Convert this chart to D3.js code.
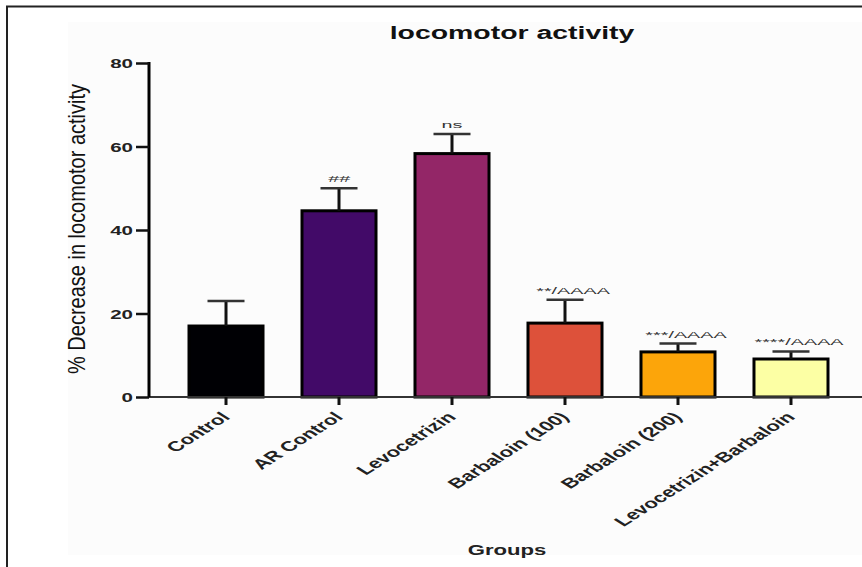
<!DOCTYPE html>
<html>
<head>
<meta charset="utf-8">
<script src="https://cdn.jsdelivr.net/npm/d3@7"></script>
<style>
  html, body { margin: 0; padding: 0; background: #fff; }
  svg { display: block; }
  text { font-family: "Liberation Sans", Arial, sans-serif; }
</style>
</head>
<body>
<svg id="chart" width="862" height="567"></svg>
<script>
// Groups and their mean ± SEM of % decrease in locomotor activity
const categories = ["Control", "AR Control", "Levocetrizin", "Barbaloin (100)", "Barbaloin (200)", "Levocetrizin+Barbaloin"];
const means = [17.0, 44.6, 58.3, 17.7, 10.8, 9.1];
const sems = [6.0, 5.4, 4.7, 5.6, 2.0, 1.8];
const significance = ["", "##", "ns", "**/AAAA", "***/AAAA", "****/AAAA"];
const barColors = ["#000004", "#420a68", "#932667", "#dd513a", "#fca50a", "#fcffa4"];
const yTicks = [0, 20, 40, 60, 80];

const svg = d3.select("#chart");
const SX = 1.58; // horizontal text stretch used throughout the figure

// faint figure panel and frame
svg.append("rect").attr("x", 68).attr("y", 22).attr("width", 794).attr("height", 533).attr("fill", "#fcfcfc");
svg.append("path").attr("d", "M7,567 V6.5 H862").attr("fill", "none").attr("stroke", "#222").attr("stroke-width", 2);

const y = d3.scaleLinear().domain([0, 80]).range([397, 63]);
const x = d3.scaleBand().domain(categories).range([149, 868]).paddingInner(0.345).paddingOuter(0.354);

// title
svg.append("text")
  .attr("transform", `translate(512,39) scale(${SX},1)`)
  .attr("text-anchor", "middle").attr("font-weight", "bold").attr("font-size", 18)
  .attr("fill", "#111")
  .text("locomotor activity");

// bars
svg.append("g").selectAll("rect").data(categories).join("rect")
  .attr("x", d => x(d))
  .attr("width", x.bandwidth())
  .attr("y", (d, i) => y(means[i]))
  .attr("height", (d, i) => y(0) - y(means[i]))
  .attr("fill", (d, i) => barColors[i])
  .attr("stroke", "#000").attr("stroke-width", 3);

// upper error bars
const eb = svg.append("g").attr("stroke", "#111").attr("stroke-width", 3);
categories.forEach((c, i) => {
  const cx = x(c) + x.bandwidth() / 2;
  eb.append("line").attr("x1", cx).attr("x2", cx).attr("y1", y(means[i])).attr("y2", y(means[i] + sems[i]));
  eb.append("line").attr("x1", cx - 18.5).attr("x2", cx + 18.5).attr("y1", y(means[i] + sems[i])).attr("y2", y(means[i] + sems[i]))
    .attr("stroke", "#333").attr("stroke-width", 2.5);
});

// significance marks
svg.append("g").selectAll("text").data(categories).join("text")
  .attr("transform", (d, i) => `translate(${x(d) + x.bandwidth() / 2 + (i >= 3 ? 8 : 0)},${y(means[i] + sems[i]) - 6}) scale(2.2,1)`)
  .attr("text-anchor", "middle").attr("font-size", 9).attr("fill", "#333")
  .attr("font-style", (d, i) => i === 1 ? "italic" : "normal")
  .text((d, i) => significance[i]);

// x axis
const xAxis = svg.append("g");
xAxis.append("line").attr("x1", 149).attr("x2", 862).attr("y1", y(0)).attr("y2", y(0))
  .attr("stroke", "#333").attr("stroke-width", 2);
xAxis.selectAll("line.tick").data(categories).join("line").attr("class", "tick")
  .attr("x1", d => x(d) + x.bandwidth() / 2).attr("x2", d => x(d) + x.bandwidth() / 2)
  .attr("y1", y(0)).attr("y2", y(0) + 8)
  .attr("stroke", "#111").attr("stroke-width", 3);
xAxis.selectAll("text").data(categories).join("text")
  .attr("transform", d => `translate(${x(d) + x.bandwidth() / 2 + 5},${y(0) + 21}) scale(${SX},1) rotate(-45)`)
  .attr("text-anchor", "end").attr("font-weight", "bold").attr("font-size", 14)
  .attr("fill", "#222")
  .text(d => d);

// y axis
const yAxis = svg.append("g")
  .attr("transform", "translate(149,0)")
  .call(d3.axisLeft(y).tickValues(yTicks).tickSize(13).tickPadding(3));
yAxis.select(".domain").attr("stroke", "#000").attr("stroke-width", 3).attr("d", `M0,${y(80) - 1}V${y(0)}`);
yAxis.selectAll(".tick line").attr("stroke", "#111").attr("stroke-width", 2.5);
yAxis.selectAll(".tick text").remove();
yAxis.selectAll(".tick").append("text")
  .attr("transform", `translate(-16,0) scale(${SX},1)`)
  .attr("text-anchor", "end").attr("dy", "0.35em")
  .attr("font-weight", "bold").attr("font-size", 13).attr("fill", "#222")
  .text(d => d);

// axis titles
svg.append("text")
  .attr("transform", "translate(77,229) rotate(-90) scale(1,1.2)")
  .attr("text-anchor", "middle").attr("dy", "0.35em").attr("font-size", 20).attr("fill", "#111")
  .text("% Decrease in locomotor activity");
svg.append("text")
  .attr("transform", `translate(507,555) scale(${SX},1)`)
  .attr("text-anchor", "middle").attr("font-weight", "bold").attr("font-size", 14).attr("fill", "#222")
  .text("Groups");
</script>
</body>
</html>
